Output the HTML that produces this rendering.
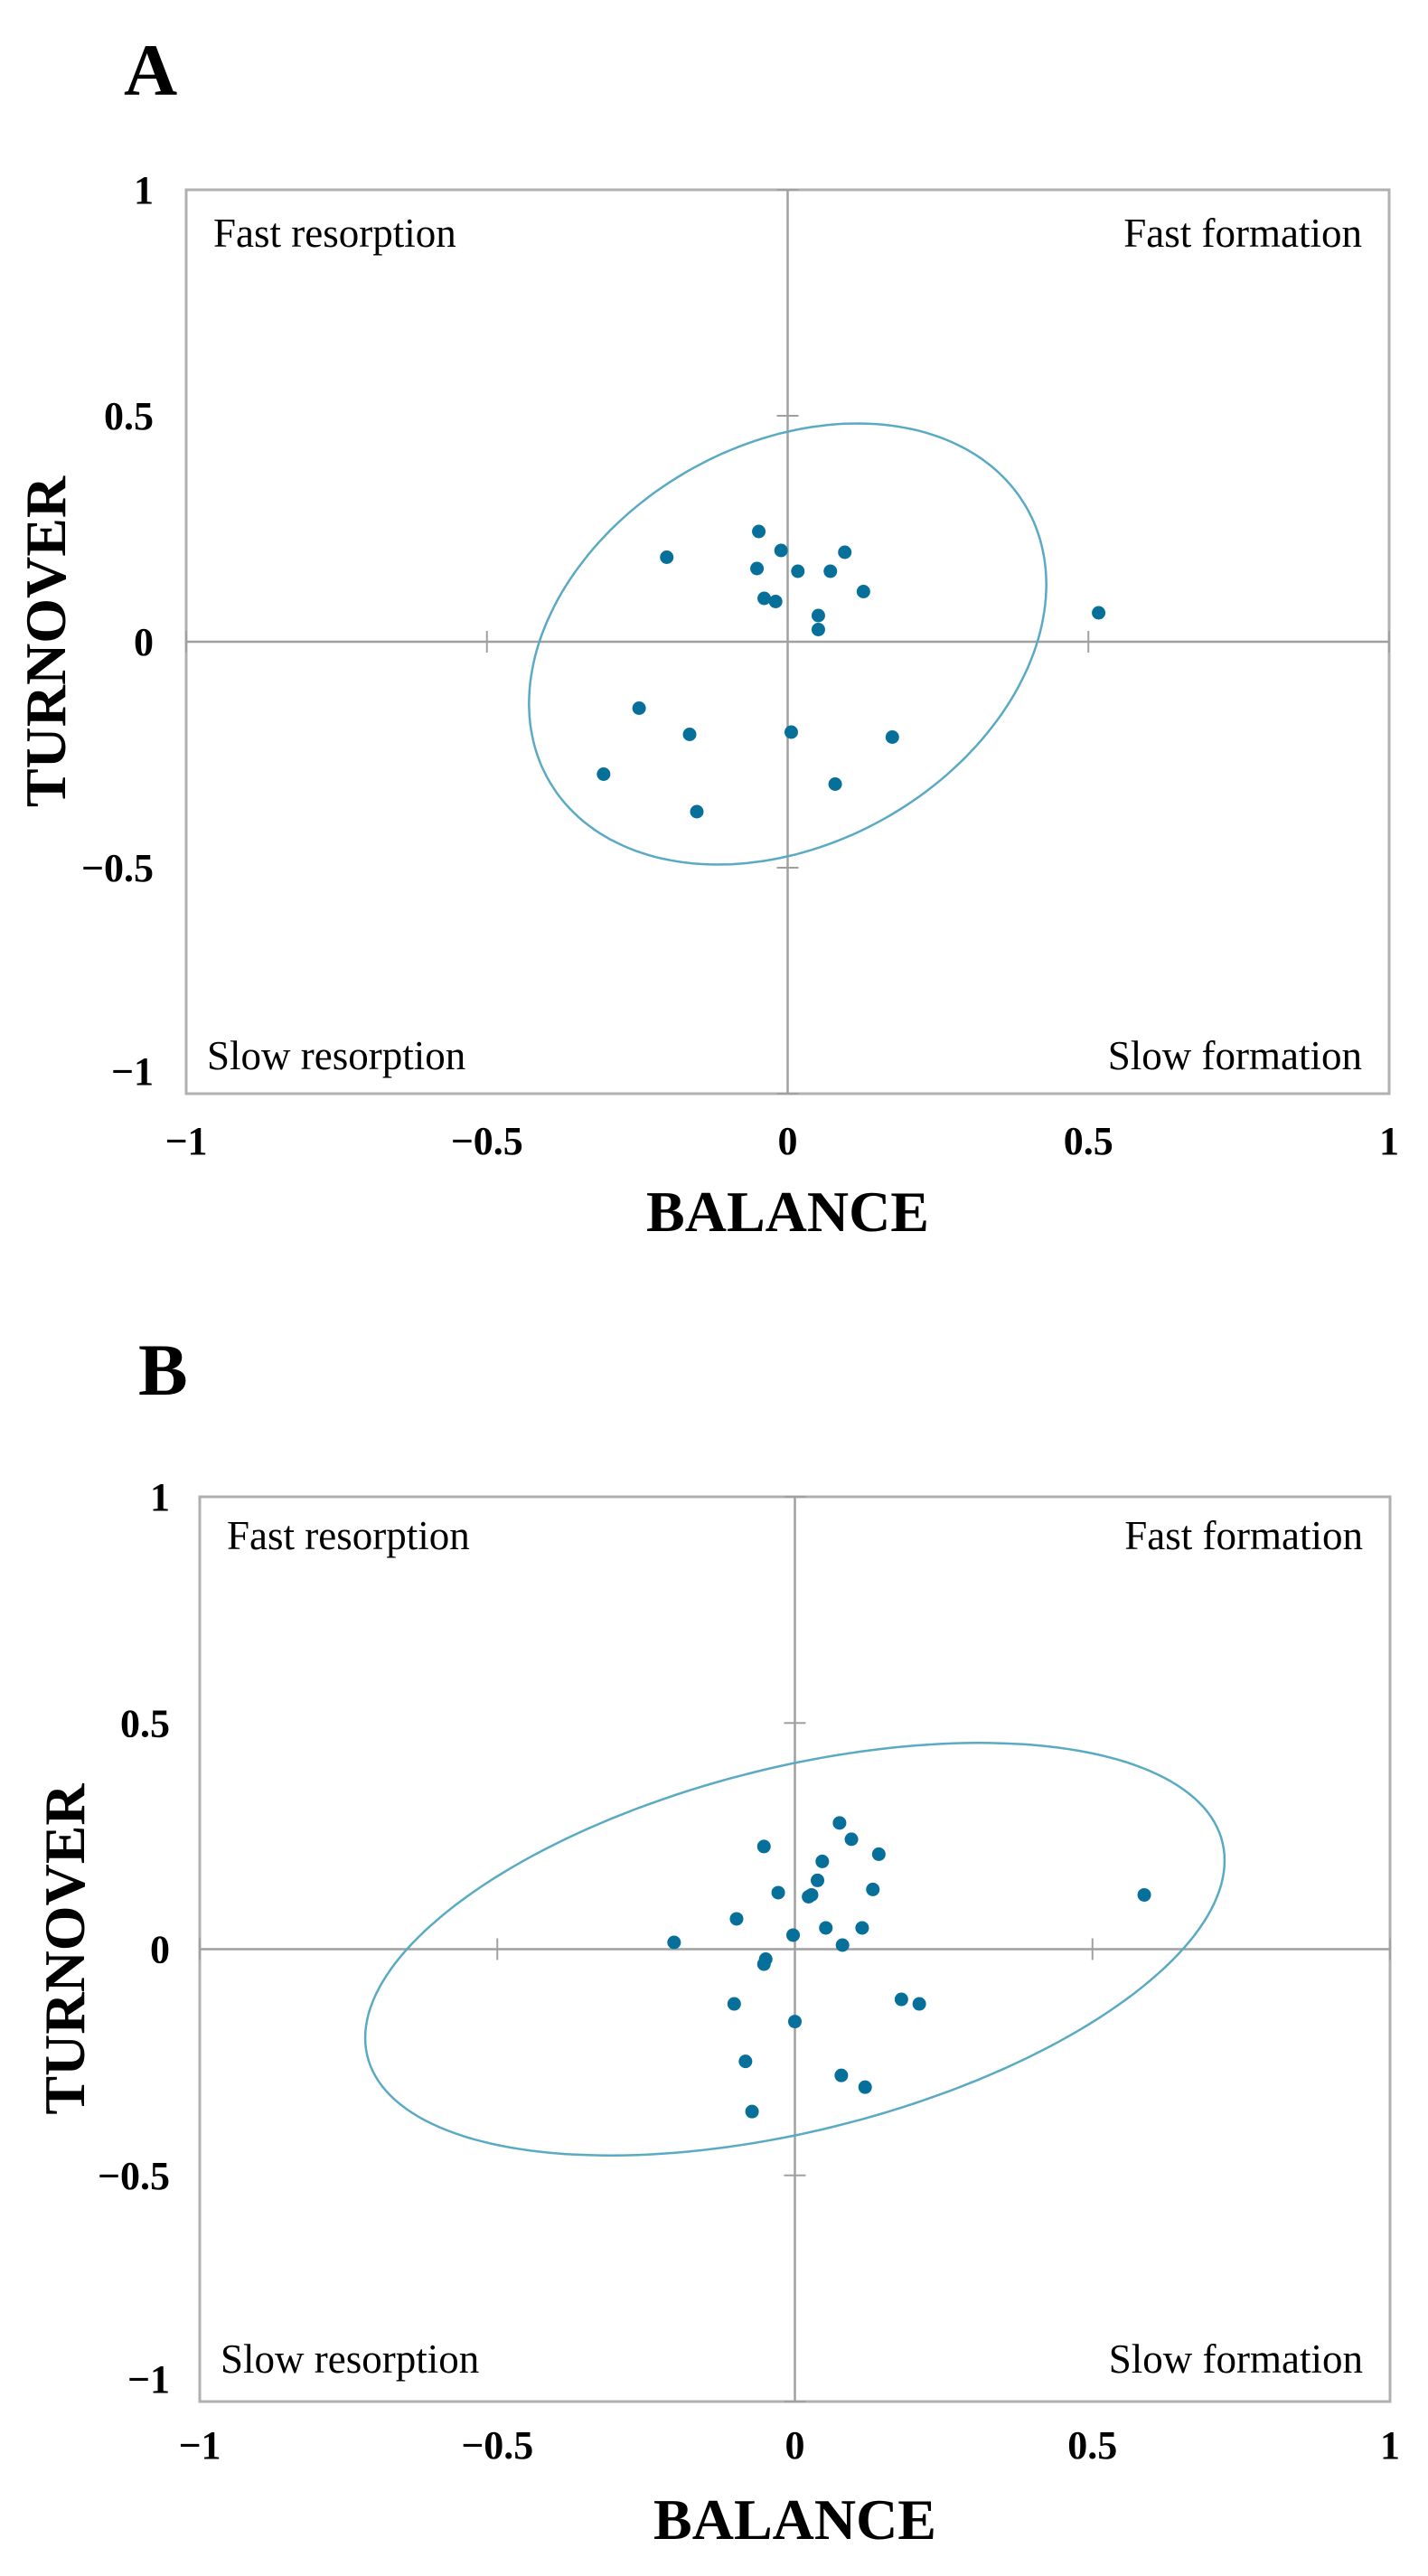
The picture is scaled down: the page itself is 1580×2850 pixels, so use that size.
<!DOCTYPE html>
<html>
<head>
<meta charset="utf-8">
<style>
  html, body { margin: 0; padding: 0; background: #fff; }
  body { width: 1580px; height: 2850px; overflow: hidden; }
  svg { display: block; }
  text { font-family: "Liberation Serif", "DejaVu Serif", serif; fill: #000; }
</style>
</head>
<body>
<svg id="fig" width="1580" height="2850" viewBox="0 0 1580 2850" xmlns="http://www.w3.org/2000/svg"></svg>
<script>
// ---------- Data: panel A ----------
const aBalance  = [-0.048, -0.201, -0.011, 0.095, -0.051, 0.017, 0.071, 0.126, -0.039, -0.020, 0.051, 0.051, 0.517, -0.247, -0.163, 0.006, 0.174, -0.306, 0.079, -0.151];
const aTurnover = [0.244, 0.187, 0.202, 0.198, 0.162, 0.156, 0.156, 0.111, 0.096, 0.089, 0.058, 0.027, 0.064, -0.147, -0.205, -0.200, -0.211, -0.293, -0.315, -0.376];
// ellipse: [centerX, centerY, xRadius, yRadius, cosPhase]
const aEllipse = [0.0, -0.005, 0.430, 0.488, 0.27];

// ---------- Data: panel B ----------
const bBalance  = [0.075, 0.095, -0.052, 0.141, 0.046, 0.038, -0.028, 0.023, 0.028, 0.131, 0.587, -0.098, 0.052, 0.113, -0.003, -0.203, 0.080, -0.049, -0.052, 0.179, 0.209, -0.102, 0.000, -0.083, 0.078, 0.118, -0.072];
const bTurnover = [0.279, 0.243, 0.227, 0.210, 0.194, 0.152, 0.125, 0.116, 0.120, 0.132, 0.120, 0.067, 0.047, 0.047, 0.031, 0.015, 0.009, -0.022, -0.033, -0.111, -0.121, -0.121, -0.160, -0.248, -0.279, -0.305, -0.359];
const bEllipse = [0.0, 0.0, 0.722, 0.456, 0.43];

// ---------- Axis ticks ----------
const xTicks = [-1, -0.5, 0, 0.5, 1];
const xTickLabels = ["\u22121", "\u22120.5", "0", "0.5", "1"];
const yTicks = [1, 0.5, 0, -0.5, -1];
const yTickLabels = ["1", "0.5", "0", "\u22120.5", "\u22121"];
const quadrantLabels = ["Fast resorption", "Fast formation", "Slow resorption", "Slow formation"];

const NS = "http://www.w3.org/2000/svg";
const svg = document.getElementById("fig");

function mk(tag, attrs, parent) {
  const e = document.createElementNS(NS, tag);
  for (const k in attrs) e.setAttribute(k, attrs[k]);
  (parent || svg).appendChild(e);
  return e;
}

function drawPanel(cfg, xs, ys, ell) {
  const g = mk("g", {});
  
  
  const L = cfg.left, R = cfg.right, T = cfg.top, B = cfg.bottom;
  const sx = v => L + (v + 1) / 2 * (R - L);
  const sy = v => B - (v + 1) / 2 * (B - T);

  const letter = mk("text", { x: cfg.letterX, y: cfg.letterY, "font-size": 82, "font-weight": "bold" }, g);
  letter.textContent = cfg.letter;
  
  

  const frame = mk("rect", { x: L, y: T, width: R - L, height: B - T, fill: "none", stroke: "#b0b0b0", "stroke-width": 3 }, g);
  
  

  const xAxis = mk("line", { x1: L, x2: R, y1: sy(0), y2: sy(0), stroke: "#a0a0a0", "stroke-width": 2.5 }, g);
  
  
  const yAxis = mk("line", { x1: sx(0), x2: sx(0), y1: T, y2: B, stroke: "#a0a0a0", "stroke-width": 2.5 }, g);
  
  

  xTicks.forEach(v => {
    const t = mk("line", { x1: sx(v), x2: sx(v), y1: sy(0) - 12, y2: sy(0) + 12, stroke: "#a0a0a0", "stroke-width": 2 }, g);
    
    
  });
  yTicks.forEach(v => {
    const t = mk("line", { x1: sx(0) - 12, x2: sx(0) + 12, y1: sy(v), y2: sy(v), stroke: "#a0a0a0", "stroke-width": 2 }, g);
    
    
  });

  xTicks.forEach((v, i) => {
    const t = mk("text", { x: sx(v), y: cfg.xLabelY, "font-size": 44, "font-weight": "bold", "text-anchor": "middle" }, g);
    t.textContent = xTickLabels[i];
    
    
  });
  yTicks.forEach((v, i) => {
    const yy = Math.min(sy(v), B - 25);
    const t = mk("text", { x: cfg.yLabelX, y: yy + 15, "font-size": 44, "font-weight": "bold", "text-anchor": "end" }, g);
    t.textContent = yTickLabels[i];
    
    
  });

  const xt = mk("text", { x: (L + R) / 2, y: cfg.xTitleY, "font-size": 64, "font-weight": "bold", "text-anchor": "middle" }, g);
  xt.textContent = "BALANCE";
  
  
  const ty = sy(0);
  const yt = mk("text", { x: cfg.yTitleX, y: ty, "font-size": 64, "font-weight": "bold", "text-anchor": "middle", transform: "rotate(-90 " + cfg.yTitleX + " " + ty + ")" }, g);
  yt.textContent = "TURNOVER";
  
  

  const qpos = [
    [L + 30, cfg.qTopY, "start"], [R - 30, cfg.qTopY, "end"],
    [L + 23, cfg.qBotY, "start"], [R - 30, cfg.qBotY, "end"]
  ];
  quadrantLabels.forEach((s, i) => {
    const t = mk("text", { x: qpos[i][0], y: qpos[i][1], "font-size": 45, "text-anchor": qpos[i][2] }, g);
    t.textContent = s;
    
    
  });

  const [cx, cy, rx, ry, cphi] = ell;
  const phi = Math.acos(cphi);
  let d = "";
  for (let k = 0; k <= 200; k++) {
    const t = k / 200 * 2 * Math.PI;
    const px = sx(cx + rx * Math.cos(t));
    const py = sy(cy + ry * Math.cos(t - phi));
    d += (k === 0 ? "M" : "L") + px.toFixed(1) + "," + py.toFixed(1);
  }
  const el = mk("path", { d: d + "Z", fill: "none", stroke: "#5aaac4", "stroke-width": 2.5 }, g);
  
  

  xs.forEach((v, i) => {
    const c = mk("circle", { cx: sx(v), cy: sy(ys[i]), r: 7.5, fill: "#07709a" }, g);
    
    
  });
}

drawPanel({ name: "panel-a", letter: "A", letterX: 137, letterY: 105, left: 206, right: 1537, top: 210, bottom: 1210,
  xLabelY: 1277, yLabelX: 170, xTitleY: 1362, yTitleX: 72, qTopY: 273, qBotY: 1183 }, aBalance, aTurnover, aEllipse);

drawPanel({ name: "panel-b", letter: "B", letterX: 153, letterY: 1543, left: 221, right: 1538, top: 1656, bottom: 2657,
  xLabelY: 2720, yLabelX: 188, xTitleY: 2809, yTitleX: 93, qTopY: 1714, qBotY: 2625 }, bBalance, bTurnover, bEllipse);
</script>
</body>
</html>
